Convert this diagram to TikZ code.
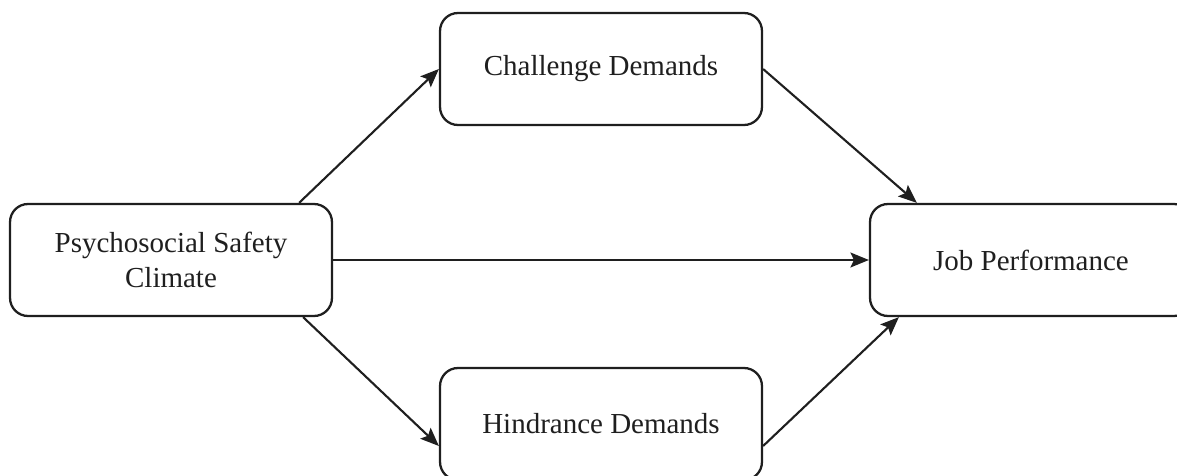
\documentclass[tikz,border=0pt]{standalone}
\usepackage{fontspec}
\setmainfont{Liberation Serif}
\usepackage{tikz}
\usetikzlibrary{arrows.meta,positioning,calc}

\begin{document}
\begin{tikzpicture}[x=0.02cm, y=-0.02cm, every node/.style={font=\fontsize{16.5}{20}\selectfont}, box/.style={draw, line width=1.3pt, rounded corners=0.36cm, minimum height=2.24cm, minimum width=6.44cm, align=center}, >={Stealth[length=10.5pt,width=8.5pt,inset=2pt]}, line width=1.2pt, color={black!88}]

                \useasboundingbox (0,0) rectangle (1177,476);

                \node[box] (psc)  at (171,260) {Psychosocial Safety\\Climate};
                \node[box] (chal) at (601,69)  {Challenge Demands};
                \node[box] (hin)  at (601,424) {Hindrance Demands};
                \node[box] (job)  at (1031,260) {Job Performance};

                \draw[->] ($(psc.north east)+(-34,0)$) -- (chal.west);
                \draw[->] ($(psc.south east)+(-30,0)$) -- ($(hin.west)+(0,22)$);
                \draw[->] (psc) -- (job);
                \draw[->] (chal.east) -- ($(job.north west)+(48,0)$);
                \draw[->] ($(hin.east)+(0,22)$) -- ($(job.south west)+(30,0)$);
            \end{tikzpicture}
\end{document}
